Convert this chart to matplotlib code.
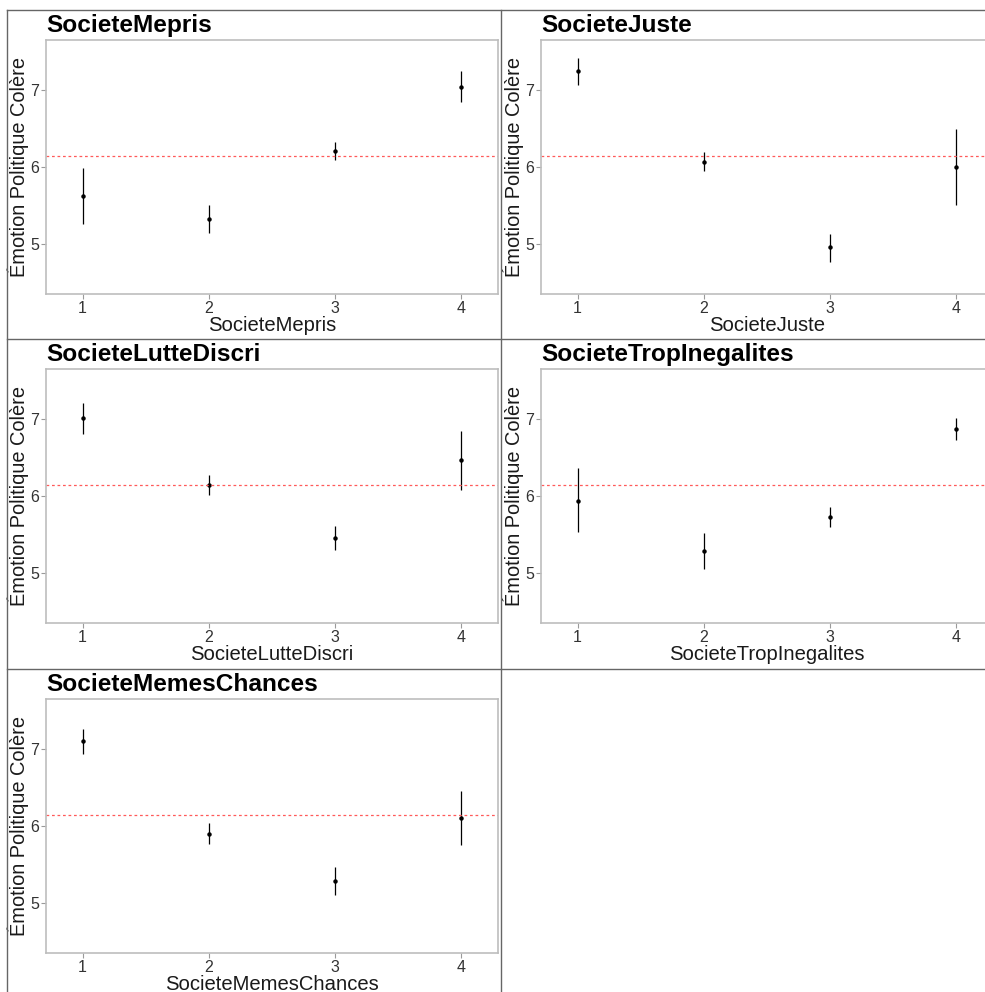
import numpy as np
import matplotlib
matplotlib.use('Agg')
import matplotlib.pyplot as plt
from matplotlib.lines import Line2D

plt.rcParams['font.family'] = ['Liberation Sans', 'DejaVu Sans']

# Data
levels = [1, 2, 3, 4]
panels = ['SocieteMepris', 'SocieteJuste', 'SocieteLutteDiscri',
          'SocieteTropInegalites', 'SocieteMemesChances']

mepris_mean = [5.62, 5.32, 6.21, 7.04]
mepris_lo = [5.26, 5.14, 6.09, 6.84]
mepris_hi = [5.99, 5.51, 6.32, 7.25]

juste_mean = [7.25, 6.065, 4.96, 6.00]
juste_lo = [7.07, 5.95, 4.77, 5.51]
juste_hi = [7.41, 6.19, 5.13, 6.50]

lutte_mean = [7.01, 6.14, 5.46, 6.47]
lutte_lo = [6.81, 6.01, 5.30, 6.08]
lutte_hi = [7.21, 6.27, 5.61, 6.85]

inegal_mean = [5.94, 5.29, 5.73, 6.87]
inegal_lo = [5.53, 5.05, 5.60, 6.73]
inegal_hi = [6.36, 5.52, 5.86, 7.01]

chances_mean = [7.10, 5.90, 5.29, 6.11]
chances_lo = [6.94, 5.77, 5.11, 5.75]
chances_hi = [7.26, 6.04, 5.47, 6.45]

grand_mean = 6.14
y_label = 'Émotion Politique Colère'

series = [(mepris_mean, mepris_lo, mepris_hi),
          (juste_mean, juste_lo, juste_hi),
          (lutte_mean, lutte_lo, lutte_hi),
          (inegal_mean, inegal_lo, inegal_hi),
          (chances_mean, chances_lo, chances_hi)]

W, H = 985, 992
fig = plt.figure(figsize=(W / 100, H / 100), dpi=100)


def fx(px):
    return px / W


def fy(py):
    return 1 - py / H


col_left = [7, 502]
row_top = [10, 339, 669]

for i, name in enumerate(panels):
    r, c = divmod(i, 2)
    x0 = col_left[c]
    y0 = row_top[r]
    left, right = x0 + 39, x0 + 491
    top, bottom = y0 + 30, y0 + 284
    ax = fig.add_axes([fx(left), fy(bottom), (right - left) / W, (bottom - top) / H])
    mean, lo, hi = series[i]
    ax.vlines(levels, lo, hi, color='black', lw=0.9)
    ax.plot(levels, mean, 'o', color='black', ms=2.2)
    ax.axhline(grand_mean, color='#ff5a5a', lw=0.9, dashes=(2.2, 2.2))
    ax.set_xlim(0.71, 4.29)
    ax.set_ylim(4.35, 7.65)
    ax.set_xticks(levels)
    ax.set_yticks([5, 6, 7])
    ax.tick_params(length=3.5, width=0.8, color='#9a9a9a', labelsize=11.5,
                   labelcolor='#333333', pad=1.5)
    for s in ax.spines.values():
        s.set_color('#bdbdbd')
        s.set_linewidth(1.2)
    ax.set_xlabel(name, fontsize=14.6, labelpad=0, color='#1a1a1a')
    ax.set_ylabel(y_label, fontsize=14.4, labelpad=1, color='#1a1a1a')
    fig.text(fx(left), fy(y0 + 22), name, fontsize=17.6, fontweight='bold',
             ha='left', va='baseline')

# cell borders
lc = '#666666'
fig.add_artist(Line2D([fx(7), fx(7)], [fy(10), fy(H + 5)], color=lc, lw=1.0))
fig.add_artist(Line2D([fx(7), fx(W + 5)], [fy(10), fy(10)], color=lc, lw=1.0))
fig.add_artist(Line2D([fx(501.5), fx(501.5)], [fy(10), fy(H + 5)], color=lc, lw=1.0))
fig.add_artist(Line2D([fx(7), fx(W + 5)], [fy(339), fy(339)], color=lc, lw=1.0))
fig.add_artist(Line2D([fx(7), fx(W + 5)], [fy(669), fy(669)], color=lc, lw=1.0))

fig.savefig('out.png', dpi=100)
